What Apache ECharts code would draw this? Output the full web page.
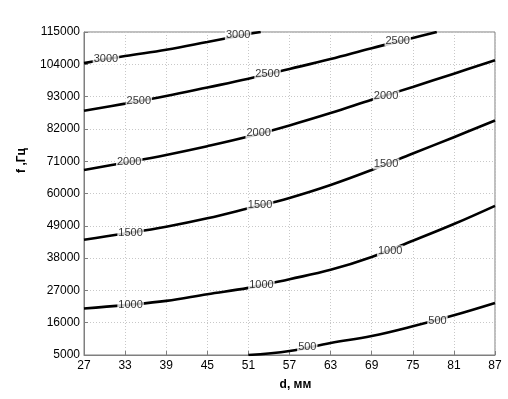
<!DOCTYPE html>
<html>
<head>
<meta charset="utf-8">
<script src="https://cdn.jsdelivr.net/npm/echarts@6/dist/echarts.min.js"></script>
<style>
  html, body { margin: 0; padding: 0; background: #fff; }
  #main { width: 508px; height: 399px; }
</style>
</head>
<body>
<div id="main"></div>
<script>
// contour levels and their traced points [d, f]
const levels = [500, 1000, 1500, 2000, 2500, 3000];

const line500 = [[51, 5000], [57, 6370], [63, 9090], [69, 11480], [75, 14790], [81, 18550], [87, 22740]];
const line1000 = [[27, 20830], [33, 22000], [39, 23420], [45, 25710], [51, 27860], [57, 30830], [63, 34000], [69, 38400], [75, 43900], [81, 49600], [87, 55800]];
const line1500 = [[27, 44270], [33, 46350], [39, 48670], [45, 51540], [51, 54950], [57, 58500], [63, 62900], [69, 68020], [75, 73600], [81, 79180], [87, 84840]];
const line2000 = [[27, 68000], [33, 70500], [39, 73140], [45, 76100], [51, 79380], [57, 83200], [63, 87400], [69, 91900], [75, 96300], [81, 100800], [87, 105400]];
const line2500 = [[27, 88200], [33, 90600], [39, 93200], [45, 96100], [51, 99070], [57, 102400], [63, 105800], [69, 109500], [75, 112950], [78.5, 115000]];
const line3000 = [[27, 104400], [33, 106800], [39, 108960], [45, 111590], [51, 114300], [52.8, 115000]];

// where the level labels sit [d, f, level]
const contourLabels = [
  [30.2, 105800, 3000], [49.5, 113840, 3000],
  [35.0, 91560, 2500], [53.8, 100670, 2500], [72.8, 112030, 2500],
  [33.6, 70640, 2000], [52.5, 80540, 2000], [71.1, 93270, 2000],
  [33.8, 46620, 1500], [52.7, 56080, 1500], [71.1, 70060, 1500],
  [33.8, 22200, 1000], [52.9, 28780, 1000], [71.7, 40480, 1000],
  [59.6, 7730, 500], [78.6, 16600, 500]
];

const lines = [line500, line1000, line1500, line2000, line2500, line3000];

const chart = echarts.init(document.getElementById('main'), null, { renderer: 'canvas' });

const font = '"Liberation Sans", Arial, sans-serif';

const series = lines.map((pts, i) => ({
  name: String(levels[i]),
  type: 'line',
  data: pts,
  symbol: 'none',
  smooth: 0.4,
  clip: true,
  lineStyle: { color: '#000', width: 2.6 },
  z: 2
}));

series.push({
  type: 'scatter',
  data: contourLabels,
  symbolSize: 0,
  z: 5,
  label: {
    show: true,
    position: 'inside',
    formatter: (p) => String(p.value[2]),
    color: '#000',
    fontSize: 11,
    fontFamily: font,
    backgroundColor: '#fff',
    padding: [0, 1]
  }
});

const option = {
  backgroundColor: '#fff',
  animation: false,
  grid: {
    left: 84, right: 13, top: 32, bottom: 44,
    show: true, borderColor: '#7f7f7f', borderWidth: 1
  },
  xAxis: {
    type: 'value',
    min: 27, max: 87, interval: 6,
    name: 'd, мм',
    nameLocation: 'middle',
    nameGap: 24,
    nameTextStyle: { fontFamily: font, fontSize: 12, fontWeight: 'bold', color: '#000', padding: [0, 0, 0, 12] },
    axisLine: { lineStyle: { color: '#7f7f7f' } },
    axisTick: { inside: true, length: 4, lineStyle: { color: '#7f7f7f' } },
    axisLabel: { fontFamily: font, fontSize: 12, color: '#000', margin: 5 },
    splitLine: { show: true, lineStyle: { color: '#c8c8c8', type: [1, 2] } }
  },
  yAxis: {
    type: 'value',
    min: 5000, max: 115000, interval: 11000,
    name: 'f ,Гц',
    nameLocation: 'middle',
    nameGap: 56,
    nameTextStyle: { fontFamily: font, fontSize: 12, fontWeight: 'bold', color: '#000', padding: [0, 0, 0, 66] },
    axisLine: { lineStyle: { color: '#7f7f7f' } },
    axisTick: { inside: true, length: 4, lineStyle: { color: '#7f7f7f' } },
    axisLabel: { fontFamily: font, fontSize: 12, color: '#000', margin: 4, formatter: (v) => String(v) },
    splitLine: { show: true, lineStyle: { color: '#c8c8c8', type: [1, 2] } }
  },
  series: series
};

chart.setOption(option);
</script>
</body>
</html>
